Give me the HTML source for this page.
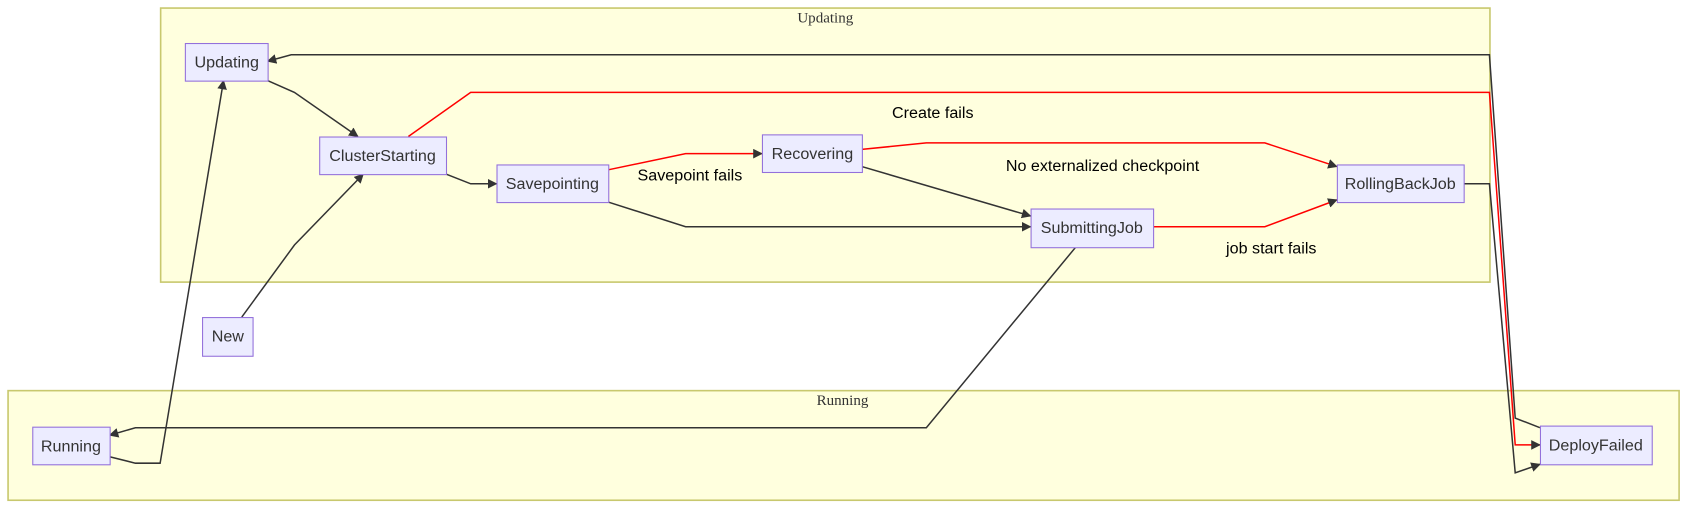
<!DOCTYPE html>
<html><head><meta charset="utf-8"><style>
html,body{margin:0;padding:0;background:#fff;}
svg text{font-family:"Liberation Sans","DejaVu Sans",sans-serif;font-size:15px;fill:#333;}
.t{fill:#000 !important;}
.c{font-family:"Liberation Serif",serif !important;font-size:14px;fill:#333;}
</style></head><body>
<svg width="1685" height="508" viewBox="0 0 1568 472.7" preserveAspectRatio="none" xmlns="http://www.w3.org/2000/svg">
<defs>
<marker id="a" viewBox="0 0 10 10" refX="9" refY="5" markerWidth="9" markerHeight="9" orient="auto" markerUnits="userSpaceOnUse"><path d="M0,0L10,5L0,10z" fill="#333"/></marker>
</defs>
<rect x="149.5" y="7.5" width="1237" height="255" fill="#ffffde" stroke="#c8c86e" stroke-width="1.5"/>
<text class="c" x="768" y="21" text-anchor="middle">Updating</text>
<rect x="7.5" y="363.5" width="1555" height="102" fill="#ffffde" stroke="#c8c86e" stroke-width="1.5"/>
<text class="c" x="784" y="377" text-anchor="middle">Running</text>
<g fill="none" stroke-width="1.4">
<polyline stroke="#333" marker-end="url(#a)" points="249,75 274,86 333,127"/>
<polyline stroke="#333" marker-end="url(#a)" points="415,162 438,171 462,171"/>
<polyline stroke="red" marker-end="url(#a)" points="380,127 438,86 1386,86 1410,414 1433,414"/>
<polyline stroke="red" marker-end="url(#a)" points="566,158 638,143 709,143"/>
<polyline stroke="#333" marker-end="url(#a)" points="566,188 638,211 959,211"/>
<polyline stroke="#333" marker-end="url(#a)" points="802,155 959,201"/>
<polyline stroke="red" marker-end="url(#a)" points="802,139 862,133 1177,133 1244,155"/>
<polyline stroke="red" marker-end="url(#a)" points="1073,211 1177,211 1244,186"/>
<polyline stroke="#333" marker-end="url(#a)" points="1001,230 862,398 126,398 102,405"/>
<polyline stroke="#333" marker-end="url(#a)" points="102,425 126,431 149,431 208,75"/>
<polyline stroke="#333" marker-end="url(#a)" points="225,295 274,228 338,162"/>
<polyline stroke="#333" marker-end="url(#a)" points="1433,398 1410,389 1386,51 271,51 249,57"/>
<polyline stroke="#333" marker-end="url(#a)" points="1362,171 1386,171 1410,440 1433,432"/>
</g>
<g fill="#ececff" stroke="#9370db" stroke-width="1">
<rect x="172.5" y="40.5" width="77" height="35"/>
<rect x="297.5" y="127.5" width="118" height="35"/>
<rect x="462.5" y="153.5" width="104" height="35"/>
<rect x="709.5" y="125.5" width="93" height="35"/>
<rect x="959.5" y="194.5" width="114" height="36"/>
<rect x="1244.5" y="153.5" width="118" height="35"/>
<rect x="188.5" y="295.5" width="47" height="36"/>
<rect x="30.5" y="397.5" width="72" height="35"/>
<rect x="1433.5" y="396.5" width="104" height="36"/>
</g>
<g text-anchor="middle">
<text x="211" y="63">Updating</text>
<text x="356" y="150">ClusterStarting</text>
<text x="514" y="176">Savepointing</text>
<text x="756" y="148">Recovering</text>
<text x="1016" y="217">SubmittingJob</text>
<text x="1303" y="176">RollingBackJob</text>
<text x="212" y="318">New</text>
<text x="66" y="420">Running</text>
<text x="1485" y="419">DeployFailed</text>
<text class="t" x="868" y="110">Create fails</text>
<text class="t" x="642" y="168">Savepoint fails</text>
<text class="t" x="1026" y="159">No externalized checkpoint</text>
<text class="t" x="1183" y="236">job start fails</text>
</g>
</svg>
</body></html>
